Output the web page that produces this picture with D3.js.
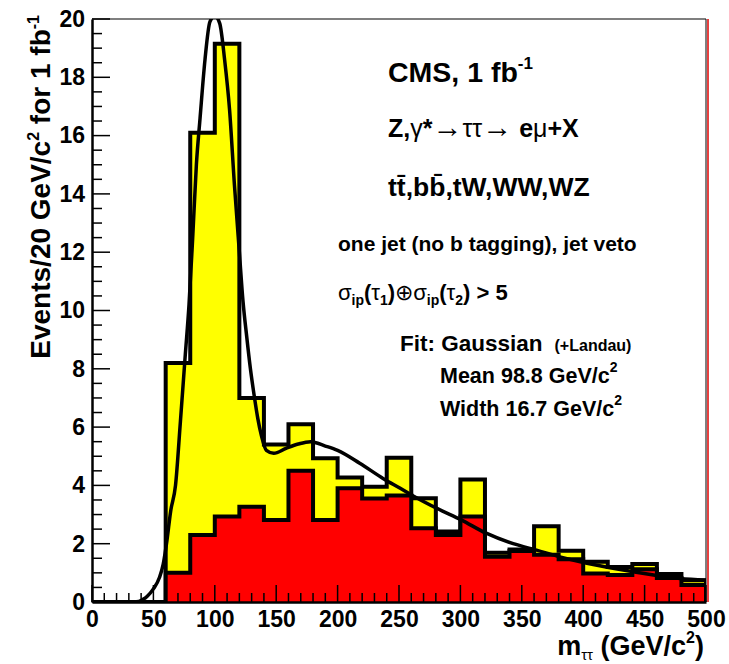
<!DOCTYPE html>
<html>
<meta charset="utf-8">
<title>m tau tau, CMS 1 fb-1</title>
<style>
  body { margin: 0; background: #fff; }
  text { font-family: "Liberation Sans", Arial, sans-serif; font-weight: bold; fill: #000; }
</style>
<body>
<div id="chartContainer"></div>
<script src="https://d3js.org/d3.v7.min.js"></script>
<script>
// bins of 20 GeV/c2, lower edge
var binLow = [60, 80, 100, 120, 140, 160, 180, 200, 220, 240, 260, 280, 300, 320, 340, 360, 380, 400, 420, 440, 460, 480];
var binWidth = 20;
// ttbar, bbbar, tW, WW, WZ (red)
var background = [1.0, 2.3, 2.93, 3.27, 2.81, 4.5, 2.81, 3.9, 3.55, 3.65, 2.53, 2.3, 2.93, 1.55, 1.75, 1.62, 1.47, 0.98, 0.93, 1.12, 0.82, 0.58];
// Z,gamma* -> tau tau (yellow, stacked on top)
var ztautau = [7.2, 13.8, 16.22, 3.73, 2.59, 1.6, 2.12, 0.37, 0.4, 1.3, 1.03, 0.12, 1.27, 0.14, 0.05, 0.98, 0.29, 0.4, 0.27, 0.18, 0.14, 0.17];
// Gaussian (+Landau) fit
var fitMass  = [0, 30, 38, 42, 45, 50, 55, 58, 61, 64, 68, 72, 76, 79, 82, 85, 88, 92, 96, 100, 104, 108, 112, 116, 120, 123, 126, 129, 132, 135, 138, 142, 148, 158, 168, 178, 190, 200, 218, 237, 251, 262, 281, 301, 321, 343, 362, 381, 403, 441, 479, 500];
var fitValue = [0, 0, 0.02, 0.1, 0.2, 0.45, 0.85, 1.3, 2.1, 3.1, 4.0, 6.2, 8.5, 10.2, 12.5, 15.0, 16.6, 18.6, 19.9, 20.1, 19.85, 18.6, 16.9, 14.3, 12.0, 10.3, 9.1, 8.0, 7.1, 6.3, 5.7, 5.2, 5.1, 5.27, 5.42, 5.5, 5.35, 5.2, 4.76, 4.24, 3.9, 3.63, 3.21, 2.81, 2.36, 2.0, 1.78, 1.55, 1.33, 1.04, 0.81, 0.75];
var xTicks = [0, 50, 100, 150, 200, 250, 300, 350, 400, 450, 500];
var yTicks = [0, 2, 4, 6, 8, 10, 12, 14, 16, 18, 20];

var W = 729, H = 664;
var svg = d3.select("#chartContainer").append("svg")
  .attr("width", W).attr("height", H);

var x = d3.scaleLinear().domain([0, 500]).range([92, 706]);
var y = d3.scaleLinear().domain([0, 20]).range([602, 19]);

svg.append("clipPath").attr("id", "frame")
  .append("rect").attr("x", 92).attr("y", 19).attr("width", 614).attr("height", 583);

// step outline of a histogram, starting at 0 from x=0
function stepPath(vals) {
  var p = d3.path();
  p.moveTo(x(0), y(0));
  p.lineTo(x(binLow[0]), y(0));
  vals.forEach(function (v, i) {
    p.lineTo(x(binLow[i]), y(v));
    p.lineTo(x(binLow[i] + binWidth), y(v));
  });
  p.lineTo(x(500), y(0));
  return p.toString();
}
function fillPath(vals) {
  var p = d3.path();
  p.moveTo(x(binLow[0]), y(0));
  vals.forEach(function (v, i) {
    p.lineTo(x(binLow[i]), y(v));
    p.lineTo(x(binLow[i] + binWidth), y(v));
  });
  p.lineTo(x(500), y(0));
  p.closePath();
  return p.toString();
}

var total = background.map(function (b, i) { return b + ztautau[i]; });

var g = svg.append("g").attr("clip-path", "url(#frame)");
g.append("path").attr("d", fillPath(total)).attr("fill", "#ffff00");
g.append("path").attr("d", stepPath(total)).attr("fill", "none")
  .attr("stroke", "#000").attr("stroke-width", 4).attr("stroke-linejoin", "miter");
g.append("path").attr("d", fillPath(background)).attr("fill", "#ff0000");
g.append("path").attr("d", stepPath(background)).attr("fill", "none")
  .attr("stroke", "#000").attr("stroke-width", 4).attr("stroke-linejoin", "miter");

var line = d3.line()
  .x(function (d, i) { return x(fitMass[i]); })
  .y(function (d) { return y(d); })
  .curve(d3.curveMonotoneX);
g.append("path").attr("d", line(fitValue)).attr("fill", "none")
  .attr("stroke", "#000").attr("stroke-width", 3.5);

// frame
svg.append("line").attr("x1", 92).attr("x2", 706).attr("y1", 19).attr("y2", 19)
  .attr("stroke", "#000").attr("stroke-width", 1.2);
svg.append("line").attr("x1", 706).attr("x2", 706).attr("y1", 19).attr("y2", 602)
  .attr("stroke", "#000").attr("stroke-width", 1);
svg.append("line").attr("x1", 708).attr("x2", 708).attr("y1", 19).attr("y2", 602)
  .attr("stroke", "#e00000").attr("stroke-width", 1.5);

// axes
var xAxis = d3.axisBottom(x).tickValues(xTicks).tickSize(0).tickPadding(9);
var yAxis = d3.axisLeft(y).tickValues(yTicks).tickSize(0).tickPadding(7);
var gx = svg.append("g").attr("transform", "translate(0,602)").call(xAxis);
var gy = svg.append("g").attr("transform", "translate(92,0)").call(yAxis);
[gx, gy].forEach(function (a) {
  a.select(".domain").attr("stroke", "#000").attr("stroke-width", 2.5);
  a.selectAll("text").attr("font-size", 23).attr("font-family", "Liberation Sans, Arial, sans-serif")
    .attr("font-weight", "bold").attr("fill", "#000");
});

// inward ticks
var tk = svg.append("g").attr("stroke", "#000").attr("stroke-width", 1.5);
d3.range(0, 501, 10).forEach(function (v) {
  var len = v % 50 === 0 ? 17 : 9;
  tk.append("line").attr("x1", x(v)).attr("x2", x(v)).attr("y1", 602).attr("y2", 602 - len);
});
d3.range(0, 20.01, 0.5).forEach(function (v) {
  var len = Math.abs(v % 2) < 1e-6 ? 18 : 10;
  tk.append("line").attr("x1", 92).attr("x2", 92 + len).attr("y1", y(v)).attr("y2", y(v));
});

// axis titles
var yt = svg.append("text").attr("transform", "translate(50,15) rotate(-90)")
  .attr("text-anchor", "end").attr("font-size", 28);
yt.append("tspan").text("Events/20 GeV/c");
yt.append("tspan").attr("font-size", 16).attr("dy", -11).text("2");
yt.append("tspan").attr("dy", 11).text(" for 1 fb");
yt.append("tspan").attr("font-size", 16).attr("dy", -11).text("-1");

var xt = svg.append("text").attr("x", 704).attr("y", 655).attr("text-anchor", "end").attr("font-size", 27);
xt.append("tspan").text("m");
xt.append("tspan").attr("font-size", 15).attr("font-weight", "normal").attr("dy", 5).text("ττ");
xt.append("tspan").attr("dy", -5).text(" (GeV/c");
xt.append("tspan").attr("font-size", 16).attr("dy", -12).text("2");
xt.append("tspan").attr("dy", 12).text(")");

// annotations
var t1 = svg.append("text").attr("x", 388).attr("y", 82).attr("font-size", 28.5);
t1.append("tspan").text("CMS, 1 fb");
t1.append("tspan").attr("font-size", 17).attr("dy", -13).text("-1");

var t2 = svg.append("text").attr("x", 388).attr("y", 137).attr("font-size", 25);
t2.append("tspan").text("Z,");
t2.append("tspan").attr("font-weight", "normal").text("γ");
t2.append("tspan").text("*");
t2.append("tspan").attr("font-weight", "normal").attr("font-size", 30).text("→");
t2.append("tspan").attr("font-weight", "normal").text("ττ");
t2.append("tspan").attr("font-weight", "normal").attr("font-size", 30).text("→");
t2.append("tspan").text(" e");
t2.append("tspan").attr("font-weight", "normal").text("μ");
t2.append("tspan").text("+X");

var t3 = svg.append("text").attr("x", 388).attr("y", 196).attr("font-size", 26.5);
t3.append("tspan").text("tt\u0304,bb\u0304,tW,WW,WZ");

svg.append("text").attr("x", 338).attr("y", 251).attr("font-size", 21)
  .text("one jet (no b tagging), jet veto");

var t5 = svg.append("text").attr("x", 338).attr("y", 300).attr("font-size", 22);
t5.append("tspan").attr("font-weight", "normal").text("σ");
t5.append("tspan").attr("font-size", 14).attr("dy", 5).text("ip");
t5.append("tspan").attr("dy", -5).text("(");
t5.append("tspan").attr("font-weight", "normal").text("τ");
t5.append("tspan").attr("font-size", 14).attr("dy", 5).text("1");
t5.append("tspan").attr("dy", -5).text(")");
t5.append("tspan").attr("font-weight", "normal").text("⊕σ");
t5.append("tspan").attr("font-size", 14).attr("dy", 5).text("ip");
t5.append("tspan").attr("dy", -5).text("(");
t5.append("tspan").attr("font-weight", "normal").text("τ");
t5.append("tspan").attr("font-size", 14).attr("dy", 5).text("2");
t5.append("tspan").attr("dy", -5).text(") > 5");

var t6 = svg.append("text").attr("x", 400).attr("y", 351).attr("font-size", 22.5);
t6.append("tspan").text("Fit: Gaussian");
t6.append("tspan").attr("font-size", 16).attr("dx", 12).text("(+Landau)");

var t7 = svg.append("text").attr("x", 440).attr("y", 383).attr("font-size", 21.5);
t7.append("tspan").text("Mean 98.8 GeV/c");
t7.append("tspan").attr("font-size", 14).attr("dy", -11).text("2");

var t8 = svg.append("text").attr("x", 440).attr("y", 416).attr("font-size", 21.5);
t8.append("tspan").text("Width 16.7 GeV/c");
t8.append("tspan").attr("font-size", 14).attr("dy", -11).text("2");
</script>
</body>
</html>
